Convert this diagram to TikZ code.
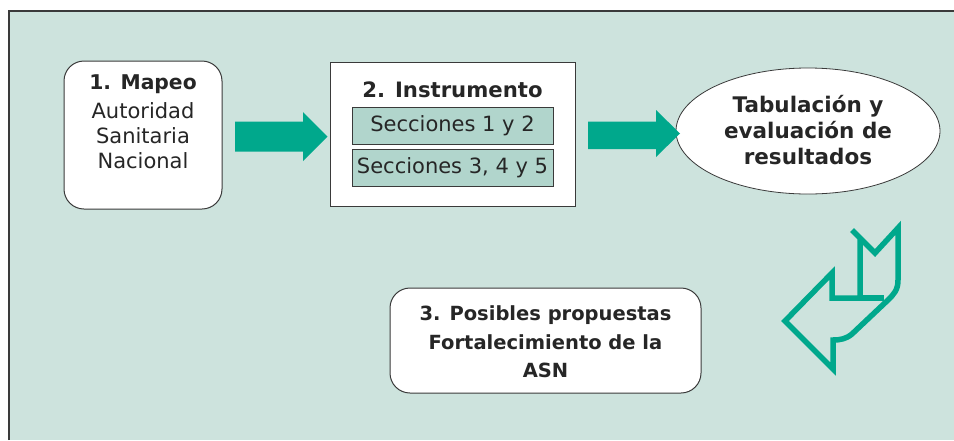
\documentclass[tikz,border=0pt]{standalone}
\usepackage{fontspec}
\setmainfont{DejaVu Sans}
\usetikzlibrary{shapes.geometric}
\definecolor{bg}{HTML}{CDE3DD}
\definecolor{tealc}{HTML}{00A88C}
\definecolor{secf}{HTML}{B1D5CC}
\definecolor{edgec}{HTML}{3A3A3A}
\tikzset{
  txt/.style={font=\fontsize{21}{25}\selectfont, text=black!85, align=center, inner sep=0pt},
  roundbox/.style={draw=edgec, line width=1pt, fill=white, rounded corners=20pt, inner sep=0pt},
  plainbox/.style={draw=edgec, line width=1pt, fill=white, inner sep=0pt},
  secbox/.style={draw=edgec, line width=1pt, fill=secf, inner sep=0pt, minimum width=201pt, minimum height=37pt, font=\fontsize{21}{25}\selectfont, text=black!85},
  blockarrow/.style={fill=tealc},
  ribbon/.style={draw=tealc, line width=5.5pt, line join=miter}
}
\begin{document}
\begin{tikzpicture}[x=1pt,y=-1pt]
\useasboundingbox (0,0) rectangle (954,440);
% background panel
\fill[bg] (9,11) rectangle (954,440);
\draw[edgec, line width=1.5pt] (9,440) -- (9,11) -- (954,11);

% box 1
\node[roundbox, minimum width=158pt, minimum height=148pt] (map) at (143,135) {};
\node[txt] (maptext) at (143,122) {{\bfseries\fontsize{20.3}{25}\selectfont 1. Mapeo}\\[4pt]Autoridad\\Sanitaria\\Nacional};

% box 2
\node[plainbox, minimum width=245pt, minimum height=144pt] (instr) at (452.5,134) {};
\node[txt, font=\bfseries\fontsize{21.2}{25}\selectfont] (instrtitle) at (452.5,90) {2. Instrumento};
\node[secbox] (sec1) at (452.5,125.5) {Secciones 1 y 2};
\node[secbox] (sec2) at (452.5,167.5) {Secciones 3, 4 y 5};

% ellipse
\node[draw=edgec, line width=0.8pt, fill=white, ellipse, minimum width=264pt, minimum height=126pt, inner sep=0pt] (tab) at (808,131) {};
\node[txt, font=\bfseries\fontsize{21.5}{26}\selectfont] (tabtext) at (808,130) {Tabulación y\\evaluación de\\resultados};

% box 3
\node[roundbox, minimum width=311pt, minimum height=105pt] (prop) at (545.5,340.5) {};
\node[txt, font=\bfseries\fontsize{19.5}{28.5}\selectfont] (proptext) at (545.5,342) {3. Posibles propuestas\\Fortalecimiento de la\\ASN};

% block arrows
\fill[blockarrow] (235,121.5) -- (303,121.5) -- (303,112) -- (327.5,136.5) -- (303,161) -- (303,151.5) -- (235,151.5) -- cycle;
\fill[blockarrow] (588,121.5) -- (656,121.5) -- (656,110) -- (680,133.5) -- (656,157) -- (656,149) -- (588,149) -- cycle;

% ribbon arrow
\draw[ribbon] (860,238) -- (852,230) -- (875,253) -- (898,228) -- (898,280)
  .. controls (898,290) and (894,294) .. (888,300) -- (852,334)
  .. controls (846,339) and (840,340) .. (833,340) -- (833,369) -- (785,321) -- (832,273) -- (832,298) -- (860,298) -- cycle;
\draw[ribbon] (860,298) -- (884,298);
\end{tikzpicture}
\end{document}
